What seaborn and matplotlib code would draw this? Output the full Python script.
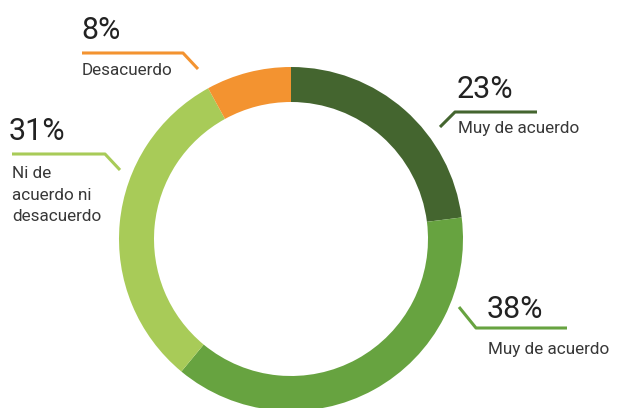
import matplotlib
matplotlib.use("Agg")
import matplotlib.pyplot as plt
import seaborn as sns

# data
categories = ["Muy de acuerdo", "Muy de acuerdo", "Ni de\nacuerdo ni\ndesacuerdo", "Desacuerdo"]
values = [23, 38, 31, 8]
pct_labels = ["23%", "38%", "31%", "8%"]
colors = ["#44652f", "#67a340", "#a8cb58", "#f39330"]

sns.set_theme(style="white")
plt.rcParams['font.family'] = ['Roboto', 'DejaVu Sans']

W, H = 618, 408
fig = plt.figure(figsize=(W / 100, H / 100), dpi=100)
ax = fig.add_axes([0, 0, 1, 1])

# donut (image coords: y measured from top, so flip)
cx, cy, R = 291, H - 239, 172
ax.pie(values, colors=colors, startangle=90, counterclock=False,
       center=(cx, cy), radius=R, frame=True,
       wedgeprops=dict(width=35, linewidth=0))
ax.set_xlim(0, W)
ax.set_ylim(0, H)
ax.set_aspect("equal")
ax.axis("off")

# label layout: (pct x, pct top y, leader polyline, label x, label top y)
layout = [
    (457, 75, [(440, 127), (455, 112), (537, 112)], 458, 121),
    (487, 295, [(459, 307), (476, 328), (567, 328)], 488, 342),
    (9, 117, [(12, 154), (105, 154), (120, 170)], 12, 166),
    (81, 16, [(82, 53), (183, 53), (198, 69)], 82, 63),
]

for (px, py, line, lx, ly), pct, cat, col in zip(layout, pct_labels, categories, colors):
    ax.text(px, H - py, pct, fontsize=22, color="#222222",
            ha="left", va="top")
    xs = [p[0] for p in line]
    ys = [H - p[1] for p in line]
    ax.plot(xs, ys, color=col, lw=2.2, solid_capstyle="butt")
    ax.text(lx, H - ly, cat, fontsize=12.3, color="#383838",
            ha="left", va="top", linespacing=1.55)

fig.savefig("out.png", dpi=100)
